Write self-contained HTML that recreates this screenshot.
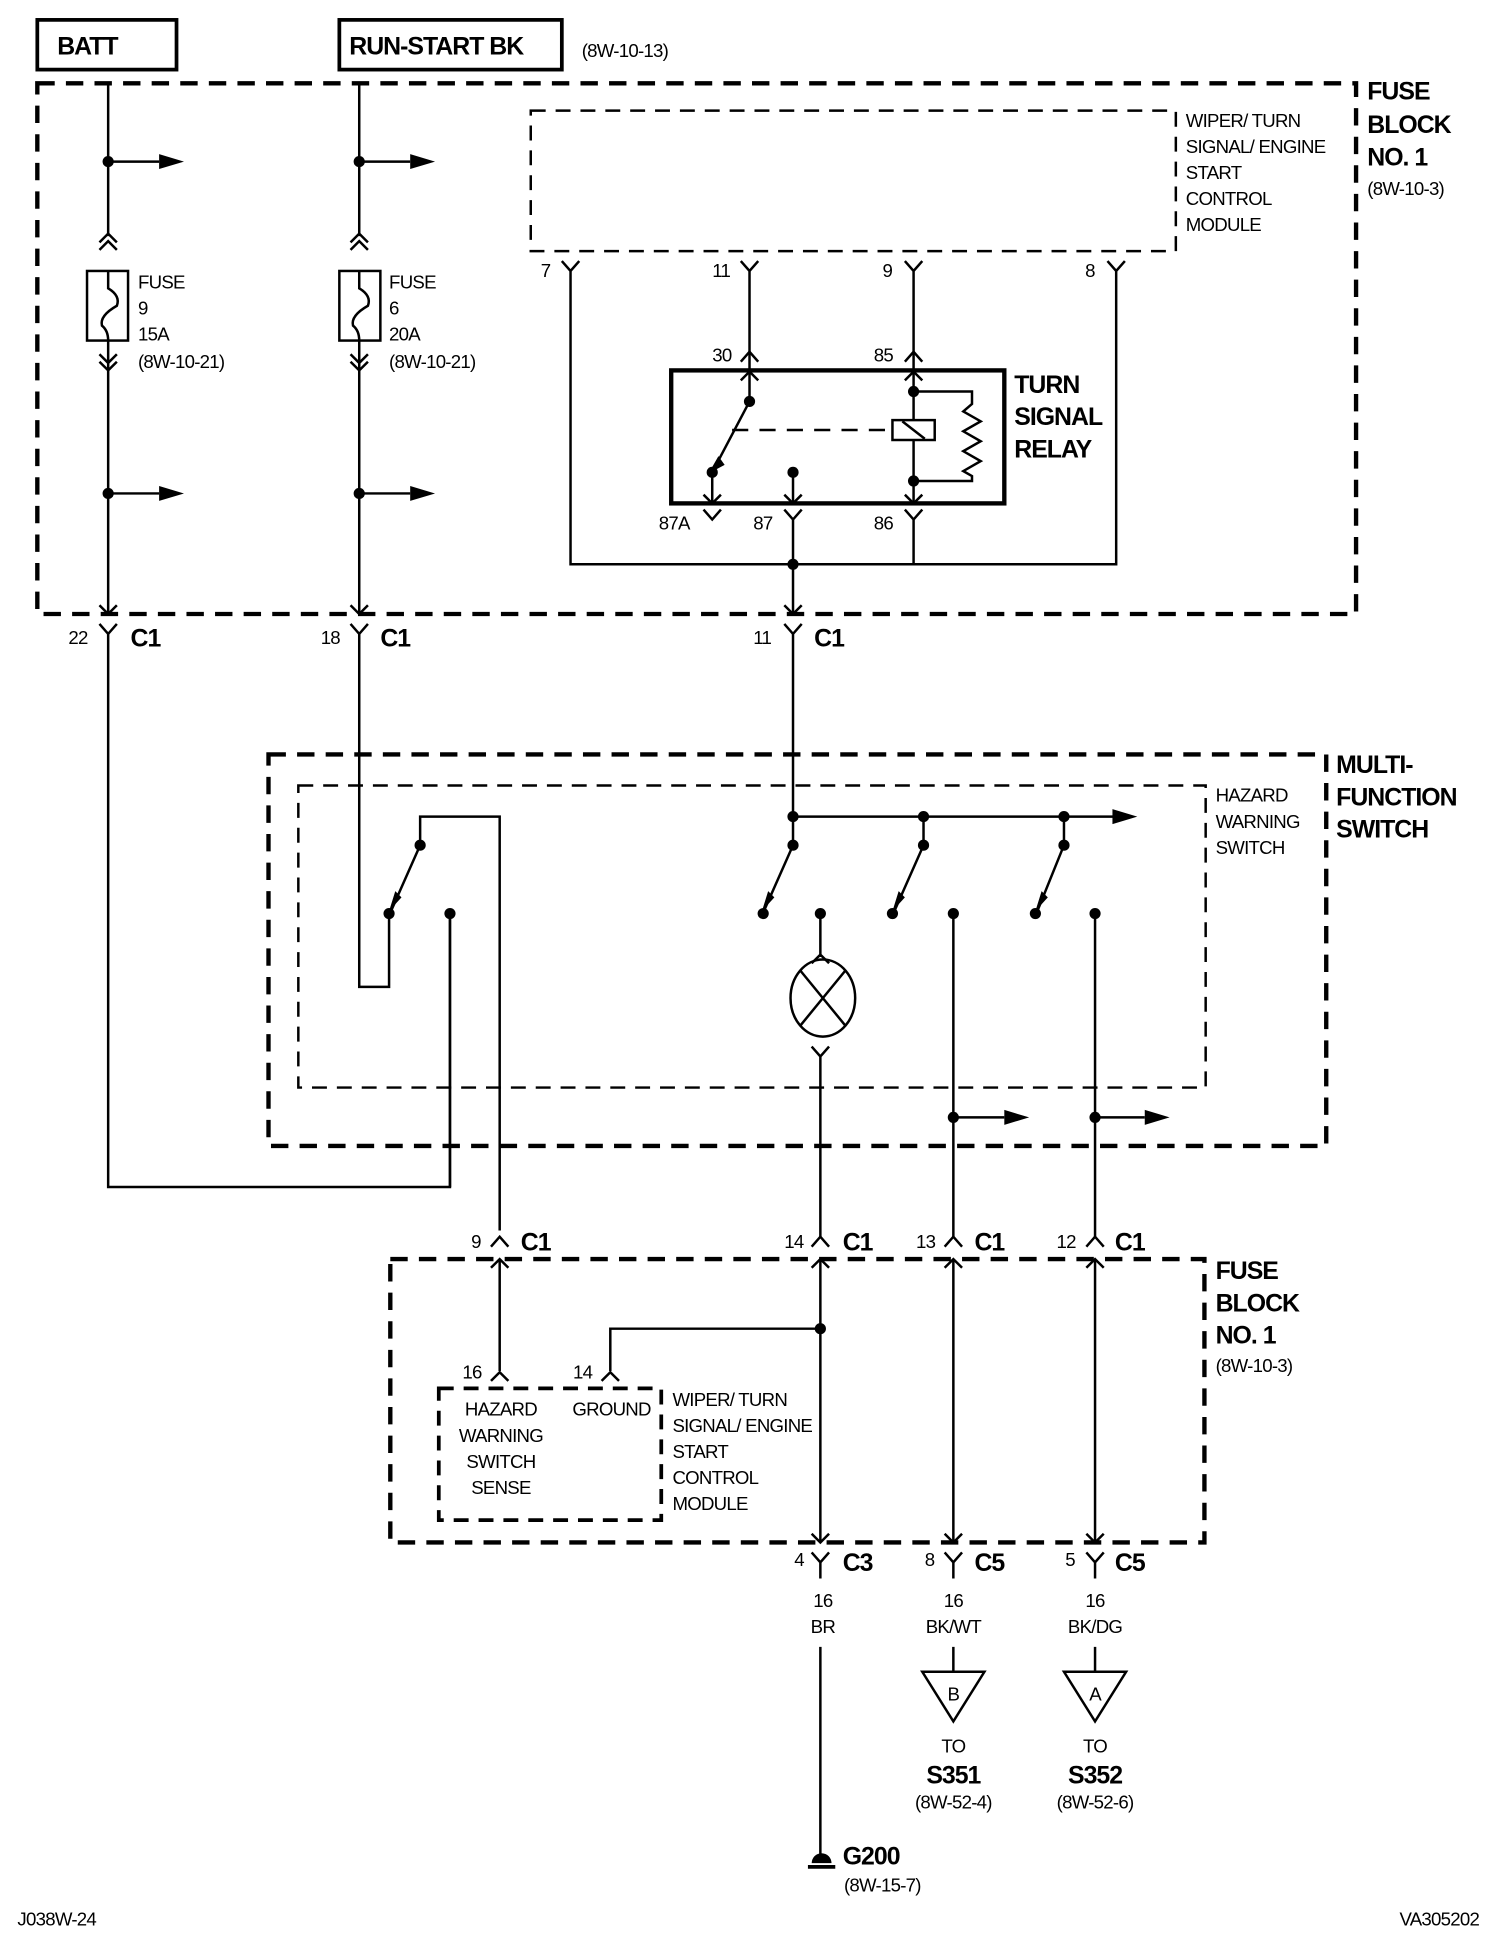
<!DOCTYPE html>
<html><head><meta charset="utf-8"><style>
html,body{margin:0;padding:0;background:#fff}
svg{display:block}
text{font-family:"Liberation Sans",sans-serif;fill:#000;letter-spacing:-0.6px}
.s{font-size:15px}
.b{font-size:20px;font-weight:bold;letter-spacing:-0.8px}
</style></head><body>
<svg width="1504" height="1934" viewBox="0 0 1210 1556" xmlns="http://www.w3.org/2000/svg">
<g fill="none" stroke="#000" stroke-width="2">
<rect x="30" y="16" width="112" height="40" stroke-width="3"/>
<rect x="273" y="16" width="179" height="40" stroke-width="3"/>
<rect x="30" y="67" width="1061" height="427" stroke-width="3.5" stroke-dasharray="14 9"/>
<rect x="427" y="89" width="519" height="113" stroke-dasharray="12 8"/>
<path d="M87 67V190M87 274V494M87 510V955H362V735"/>
<path d="M87 130H128M87 397H128"/>
<path d="M80 195L87 188L94 195M80 201L87 194L94 201M80 285L87 292L94 285M80 291L87 298L94 291"/>
<rect x="70" y="218" width="33" height="56"/>
<path d="M87 218V232Q97 238 94 246Q80 254 82 262Q87 266 87 274"/>
<path d="M80 487L87 494L94 487M80 502L87 510L94 502"/>
<path d="M289 67V190M289 274V494M289 510V794H313V735"/>
<path d="M289 130H330M289 397H330"/>
<path d="M282 195L289 188L296 195M282 201L289 194L296 201M282 285L289 292L296 285M282 291L289 298L296 291"/>
<rect x="273" y="218" width="33" height="56"/>
<path d="M289 218V232Q299 238 296 246Q282 254 284 262Q289 266 289 274"/>
<path d="M282 487L289 494L296 487M282 502L289 510L296 502"/>
<path d="M452 210L459 218L466 210M459 218V454H898V218M891 210L898 218L905 210"/>
<path d="M596 210L603 218L610 210M603 218V298"/>
<path d="M728 210L735 218L742 210M735 218V298"/>
<path d="M596 291L603 283L610 291M728 291L735 283L742 291"/>
<rect x="540" y="298" width="268" height="107" stroke-width="3.5"/>
<path d="M596 306L603 299L610 306M728 306L735 299L742 306"/>
<path d="M603 298V323L573 380V405M638 380V405"/>
<path d="M566 398L573 405L580 398M631 398L638 405L645 398M728 398L735 405L742 398"/>
<path d="M566 410L573 418L580 410M631 410L638 418L645 410M638 418V494M728 410L735 418L742 410M735 418V454"/>
<path d="M735 298V338M735 354V405"/>
<rect x="718" y="338" width="34" height="16"/>
<path d="M726 339L744 353"/>
<path d="M589 346H718" stroke-dasharray="13 9"/>
<path d="M735 315H782V325L775 331L789 339L775 347L789 355L775 363L789 371L775 379L782 383V387H735"/>
<path d="M631 487L638 494L645 487M631 502L638 510L645 502M638 510V657"/>
<rect x="216" y="607" width="851" height="315" stroke-width="3.5" stroke-dasharray="14 9"/>
<rect x="240" y="632" width="730" height="243" stroke-dasharray="12 8"/>
<path d="M338 680V657H402V990M362 735V955M338 680L315 732"/>
<path d="M638 657H898M638 657V680L615 732M743 657V680L720 732M856 657V680L835 732"/>
<path d="M660 735V770M653 775L660 768L667 775"/>
<ellipse cx="662" cy="803" rx="26" ry="31"/>
<path d="M644 781L680 825M680 781L644 825"/>
<path d="M653 842L660 850L667 842M660 850V995"/>
<path d="M767 735V995M881 735V995M767 899H808M881 899H921"/>
<path d="M395 1003L402 995L409 1003M653 1003L660 995L667 1003M760 1003L767 995L774 1003M874 1003L881 995L888 1003"/>
<rect x="314" y="1013" width="655" height="228" stroke-width="3.5" stroke-dasharray="14 9"/>
<path d="M395 1020L402 1013L409 1020M653 1020L660 1013L667 1020M760 1020L767 1013L774 1020M874 1020L881 1013L888 1020"/>
<path d="M402 1013V1103M660 1013V1241M767 1013V1241M881 1013V1241M660 1069H491V1103"/>
<path d="M395 1111L402 1104L409 1111M484 1111L491 1104L498 1111"/>
<rect x="353" y="1117" width="179" height="106" stroke-width="3" stroke-dasharray="12 8"/>
<path d="M653 1234L660 1241L667 1234M760 1234L767 1241L774 1234M874 1234L881 1241L888 1234"/>
<path d="M653 1249L660 1257L667 1249M660 1257V1270M760 1249L767 1257L774 1249M767 1257V1270M874 1249L881 1257L888 1249M881 1257V1270"/>
<path d="M660 1325V1495M767 1325V1345M881 1325V1345"/>
<path d="M742 1345H792L767 1385ZM856 1345H906L881 1385Z"/>
<path d="M650 1502H672" stroke-width="3"/>
</g>
<g fill="#000">
<path d="M128 124L148 130L128 136ZM128 391L148 397L128 403ZM330 124L350 130L330 136ZM330 391L350 397L330 403ZM895 651L915 657L895 663ZM808 893L828 899L808 905ZM921 893L941 899L921 905Z"/>
<path d="M578 367L570 381L583 374Z M318 717L313 733L323 722Z M618 717L613 733L623 722Z M723 717L718 733L728 722Z M838 717L833 733L843 722Z"/>
<path d="M653 1499A8 8 0 0 1 669 1499Z"/>
<circle cx="87" cy="130" r="4.5"/><circle cx="87" cy="397" r="4.5"/>
<circle cx="289" cy="130" r="4.5"/><circle cx="289" cy="397" r="4.5"/>
<circle cx="603" cy="323" r="4.5"/><circle cx="573" cy="380" r="4.5"/><circle cx="638" cy="380" r="4.5"/>
<circle cx="735" cy="315" r="4.5"/><circle cx="735" cy="387" r="4.5"/><circle cx="638" cy="454" r="4.5"/>
<circle cx="338" cy="680" r="4.5"/><circle cx="313" cy="735" r="4.5"/><circle cx="362" cy="735" r="4.5"/>
<circle cx="638" cy="657" r="4.5"/><circle cx="743" cy="657" r="4.5"/><circle cx="856" cy="657" r="4.5"/>
<circle cx="638" cy="680" r="4.5"/><circle cx="743" cy="680" r="4.5"/><circle cx="856" cy="680" r="4.5"/>
<circle cx="614" cy="735" r="4.5"/><circle cx="660" cy="735" r="4.5"/><circle cx="718" cy="735" r="4.5"/>
<circle cx="767" cy="735" r="4.5"/><circle cx="833" cy="735" r="4.5"/><circle cx="881" cy="735" r="4.5"/>
<circle cx="767" cy="899" r="4.5"/><circle cx="881" cy="899" r="4.5"/><circle cx="660" cy="1069" r="4.5"/>
</g>
<text class="b" x="46" y="44">BATT</text>
<text class="b" x="281" y="44">RUN-START BK</text>
<text class="s" x="468" y="46">(8W-10-13)</text>
<text class="b" x="1100" y="80">FUSE</text><text class="b" x="1100" y="107">BLOCK</text><text class="b" x="1100" y="133">NO. 1</text>
<text class="s" x="1100" y="157">(8W-10-3)</text>
<text class="s" x="954" y="102">WIPER/ TURN</text><text class="s" x="954" y="123">SIGNAL/ ENGINE</text><text class="s" x="954" y="144">START</text><text class="s" x="954" y="165">CONTROL</text><text class="s" x="954" y="186">MODULE</text>
<text class="s" x="111" y="232">FUSE</text><text class="s" x="111" y="253">9</text><text class="s" x="111" y="274">15A</text><text class="s" x="111" y="296">(8W-10-21)</text>
<text class="s" x="313" y="232">FUSE</text><text class="s" x="313" y="253">6</text><text class="s" x="313" y="274">20A</text><text class="s" x="313" y="296">(8W-10-21)</text>
<text class="s" x="435" y="223">7</text><text class="s" x="573" y="223">11</text><text class="s" x="710" y="223">9</text><text class="s" x="873" y="223">8</text>
<text class="s" x="573" y="291">30</text><text class="s" x="703" y="291">85</text>
<text class="s" x="530" y="426">87A</text><text class="s" x="606" y="426">87</text><text class="s" x="703" y="426">86</text>
<text class="b" x="816" y="316">TURN</text><text class="b" x="816" y="342">SIGNAL</text><text class="b" x="816" y="368">RELAY</text>
<text class="s" x="55" y="518">22</text><text class="b" x="105" y="520">C1</text>
<text class="s" x="258" y="518">18</text><text class="b" x="306" y="520">C1</text>
<text class="s" x="606" y="518">11</text><text class="b" x="655" y="520">C1</text>
<text class="b" x="1075" y="622">MULTI-</text><text class="b" x="1075" y="648">FUNCTION</text><text class="b" x="1075" y="674">SWITCH</text>
<text class="s" x="978" y="645">HAZARD</text><text class="s" x="978" y="666">WARNING</text><text class="s" x="978" y="687">SWITCH</text>
<text class="s" x="379" y="1004">9</text><text class="b" x="419" y="1006">C1</text>
<text class="s" x="631" y="1004">14</text><text class="b" x="678" y="1006">C1</text>
<text class="s" x="737" y="1004">13</text><text class="b" x="784" y="1006">C1</text>
<text class="s" x="850" y="1004">12</text><text class="b" x="897" y="1006">C1</text>
<text class="b" x="978" y="1029">FUSE</text><text class="b" x="978" y="1055">BLOCK</text><text class="b" x="978" y="1081">NO. 1</text>
<text class="s" x="978" y="1104">(8W-10-3)</text>
<text class="s" x="372" y="1109">16</text><text class="s" x="461" y="1109">14</text>
<g text-anchor="middle"><text class="s" x="403" y="1139">HAZARD</text><text class="s" x="403" y="1160">WARNING</text><text class="s" x="403" y="1181">SWITCH</text><text class="s" x="403" y="1202">SENSE</text>
<text class="s" x="492" y="1139">GROUND</text></g>
<text class="s" x="541" y="1131">WIPER/ TURN</text><text class="s" x="541" y="1152">SIGNAL/ ENGINE</text><text class="s" x="541" y="1173">START</text><text class="s" x="541" y="1194">CONTROL</text><text class="s" x="541" y="1215">MODULE</text>
<text class="s" x="639" y="1260">4</text><text class="b" x="678" y="1264">C3</text>
<text class="s" x="744" y="1260">8</text><text class="b" x="784" y="1264">C5</text>
<text class="s" x="857" y="1260">5</text><text class="b" x="897" y="1264">C5</text>
<g text-anchor="middle">
<text class="s" x="662" y="1293">16</text><text class="s" x="662" y="1314">BR</text>
<text class="s" x="767" y="1293">16</text><text class="s" x="767" y="1314">BK/WT</text>
<text class="s" x="881" y="1293">16</text><text class="s" x="881" y="1314">BK/DG</text>
<text class="s" x="767" y="1368">B</text><text class="s" x="881" y="1368">A</text>
<text class="s" x="767" y="1410">TO</text><text class="b" x="767" y="1435">S351</text><text class="s" x="767" y="1455">(8W-52-4)</text>
<text class="s" x="881" y="1410">TO</text><text class="b" x="881" y="1435">S352</text><text class="s" x="881" y="1455">(8W-52-6)</text>
</g>
<text class="b" x="678" y="1500">G200</text><text class="s" x="679" y="1522">(8W-15-7)</text>
<text class="s" x="14" y="1549">J038W-24</text>
<text class="s" x="1190" y="1549" text-anchor="end">VA305202</text>
</svg>
</body></html>
